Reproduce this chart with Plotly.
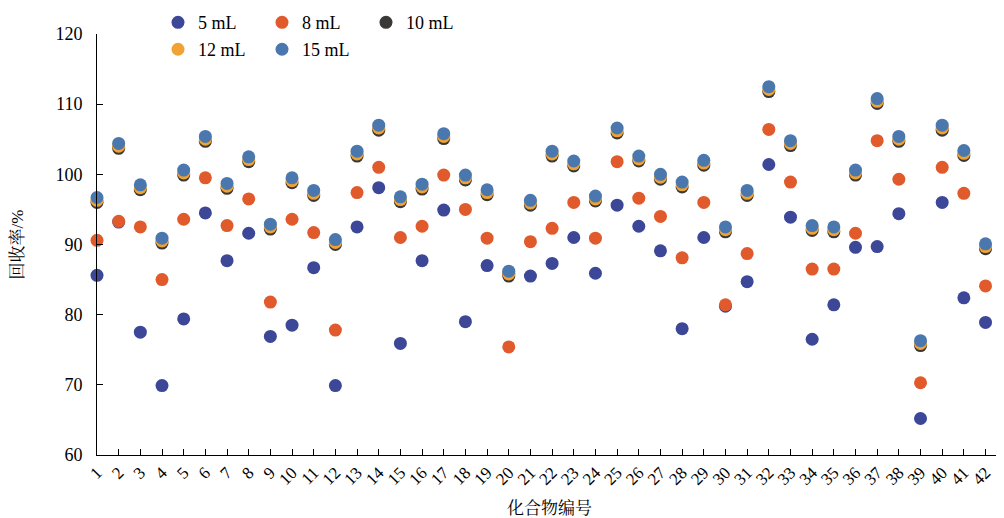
import plotly.graph_objects as go

categories = list(range(1, 43))
tick_labels = [str(c) for c in categories]

ml5 = [85.6, 93.2, 77.5, 69.9, 79.4, 94.5, 87.7, 91.6, 76.9, 78.5, 86.7, 69.9, 92.5, 98.1,
       75.9, 87.7, 94.9, 79.0, 87.0, 85.9, 85.5, 87.3, 91.0, 85.9, 95.6, 92.6, 89.1, 78.0,
       91.0, 81.2, 84.7, 101.4, 93.9, 76.5, 81.4, 89.6, 89.7, 94.4, 65.2, 96.0, 82.4, 78.9]
ml8 = [90.6, 93.3, 92.5, 85.0, 93.6, 99.5, 92.7, 96.5, 81.8, 93.6, 91.7, 77.8, 97.4, 101.0,
       91.0, 92.6, 99.9, 95.0, 90.9, 75.4, 90.4, 92.3, 96.0, 90.9, 101.8, 96.6, 94.0, 88.1,
       96.0, 81.4, 88.7, 106.4, 98.9, 86.5, 86.5, 91.6, 104.8, 99.3, 70.3, 101.0, 97.3, 84.1]
ml10 = [96.0, 103.7, 97.8, 90.2, 99.9, 104.7, 98.0, 101.8, 92.2, 98.8, 97.0, 90.0, 102.6, 106.3,
        96.1, 97.9, 105.1, 99.2, 97.1, 85.5, 95.6, 102.6, 101.2, 96.2, 105.9, 101.9, 99.3, 98.2,
        101.3, 91.8, 97.0, 111.8, 104.1, 92.0, 91.8, 99.9, 110.1, 104.7, 75.6, 106.3, 102.7, 89.4]
ml12 = [96.3, 104.0, 98.1, 90.5, 100.2, 105.0, 98.3, 102.1, 92.5, 99.1, 97.3, 90.3, 102.9, 106.6,
        96.4, 98.2, 105.4, 99.5, 97.4, 85.8, 95.9, 102.9, 101.5, 96.5, 106.2, 102.2, 99.6, 98.5,
        101.6, 92.1, 97.3, 112.1, 104.4, 92.3, 92.1, 100.2, 110.4, 105.0, 75.9, 106.6, 103.0, 89.7]
ml15 = [96.7, 104.4, 98.5, 90.9, 100.6, 105.4, 98.7, 102.5, 92.9, 99.5, 97.7, 90.7, 103.3, 107.0,
        96.8, 98.6, 105.8, 99.9, 97.8, 86.2, 96.3, 103.3, 101.9, 96.9, 106.6, 102.6, 100.0, 98.9,
        102.0, 92.5, 97.7, 112.5, 104.8, 92.7, 92.5, 100.6, 110.8, 105.4, 76.3, 107.0, 103.4, 90.1]

series = [
    ("5 mL", ml5, "#3c4798", "legend"),
    ("8 mL", ml8, "#e05a2c", "legend"),
    ("10 mL", ml10, "#3b3838", "legend"),
    ("12 mL", ml12, "#f0a232", "legend2"),
    ("15 mL", ml15, "#4a77ad", "legend2"),
]

serif = "Liberation Serif, Times New Roman, Noto Serif CJK SC, Noto Sans CJK SC, serif"

fig = go.Figure()
for name, vals, color, lg in series:
    fig.add_trace(go.Scatter(
        x=categories, y=vals, mode="markers", name=name, legend=lg,
        marker=dict(color=color, size=13, line=dict(width=0)),
        cliponaxis=False,
    ))

legend_common = dict(
    orientation="h", xref="paper", yref="paper",
    xanchor="left", yanchor="top", bgcolor="rgba(0,0,0,0)",
    font=dict(family=serif, size=18, color="black"),
    entrywidth=59, itemwidth=30, tracegroupgap=0,
)

# page body has an 8px margin, so the figure is drawn 8px smaller
fig.update_layout(
    width=996, height=510,
    margin=dict(l=89, r=2, t=26, b=63, autoexpand=False),
    paper_bgcolor="white", plot_bgcolor="white",
    font=dict(family=serif, color="black"),
    legend=dict(x=0.0674, y=1.071, **legend_common),
    legend2=dict(x=0.0674, y=1.007, **legend_common),
    xaxis=dict(
        range=[1, 42.76], tickmode="array", tickvals=categories, ticktext=tick_labels,
        ticks="inside", ticklen=6, tickcolor="black", tickwidth=1,
        showline=True, linecolor="black", linewidth=1, showgrid=False, zeroline=False,
        tickangle=-45, tickfont=dict(family=serif, size=17, color="black"),
        automargin=False,
        title=dict(text="化合物编号", font=dict(family=serif, size=17, color="black"), standoff=16),
    ),
    yaxis=dict(
        range=[60, 120], tickvals=[60, 70, 80, 90, 100, 110, 120],
        ticks="inside", ticklen=6, tickcolor="black", tickwidth=1,
        showline=True, linecolor="black", linewidth=1, showgrid=False, zeroline=False,
        ticklabelstandoff=10, automargin=False,
        tickfont=dict(family=serif, size=18, color="black"),
        title=dict(text="回收率/%", font=dict(family=serif, size=17, color="black"), standoff=29),
    ),
)

fig.write_html("out.html")
